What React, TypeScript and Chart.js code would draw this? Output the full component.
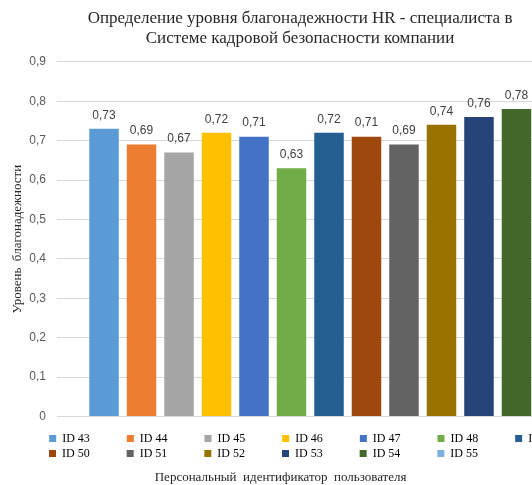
import React, { useEffect, useRef } from 'react';
import { Chart, registerables } from 'chart.js';

Chart.register(...registerables);

const titleLines = ['Определение уровня благонадежности HR - специалиста в', 'Системе кадровой безопасности компании'];
const yAxisTitle = 'Уровень  благонадежности';
const xAxisTitle = 'Персональный  идентификатор  пользователя';
const userIds = ['ID 43', 'ID 44', 'ID 45', 'ID 46', 'ID 47', 'ID 48', 'ID 49', 'ID 50', 'ID 51', 'ID 52', 'ID 53', 'ID 54', 'ID 55'];
const reliability = [0.73, 0.69, 0.67, 0.72, 0.71, 0.63, 0.72, 0.71, 0.69, 0.74, 0.76, 0.78, 0.8];
const seriesColors = ['#5B9BD5', '#ED7D31', '#A5A5A5', '#FFC000', '#4472C4', '#70AD47', '#255E91', '#9E480E', '#636363', '#997300', '#264478', '#43682B', '#7CAFDD'];
const yMin = 0;
const yMax = 0.9;
const yStep = 0.1;

const SERIF = '"Liberation Serif", "Times New Roman", serif';
const SANS = '"Liberation Sans", Arial, sans-serif';
const CANVAS_W = 610;
const CANVAS_H = 485;
const LEGEND_PER_ROW = 7;

function measurer(font: string) {
  const c = document.createElement('canvas').getContext('2d') as CanvasRenderingContext2D;
  c.font = font;
  return (s: string) => c.measureText(s).width;
}

function padText(text: string, target: number, font: string) {
  const m = measurer(font);
  let s = text;
  while (m(s + '\u00a0') <= target) s += '\u00a0';
  while (m(s + '\u200a') <= target) s += '\u200a';
  return s;
}

const fmt = (v: number) => String(Math.round(v * 100) / 100).replace('.', ',');

const dataLabels = {
  id: 'dataLabels',
  afterDatasetsDraw(chart: any) {
    const ctx = chart.ctx;
    ctx.save();
    ctx.font = `12px ${SANS}`;
    ctx.fillStyle = '#404040';
    ctx.textAlign = 'center';
    ctx.textBaseline = 'middle';
    chart.data.datasets.forEach((ds: any, i: number) => {
      const meta = chart.getDatasetMeta(i);
      meta.data.forEach((bar: any, j: number) => {
        ctx.fillText(fmt(ds.data[j]), bar.x, bar.y - 13.5);
      });
    });
    ctx.restore();
  },
};

export default function App() {
  const ref = useRef<HTMLCanvasElement>(null);
  useEffect(() => {
    if (!ref.current) return;
    const legendFont = `12px ${SERIF}`;
    const axisFont = `13px ${SERIF}`;
    const titleFont = `17px ${SERIF}`;
    const mX = measurer(axisFont);
    const mT = measurer(titleFont);
    const xTitleText = padText(xAxisTitle, mX(xAxisTitle) + 49, axisFont);
    const titleText = titleLines.map((l) => padText(l, mT(l) + 10, titleFont));
    const chart = new Chart(ref.current, {
      type: 'bar',
      data: {
        labels: [''],
        datasets: userIds.map((id, i) => ({
          label: id,
          data: [reliability[i]],
          backgroundColor: seriesColors[i],
          borderWidth: 0,
          categoryPercentage: 0.896,
          barPercentage: 0.787,
        })),
      },
      options: {
        responsive: false,
        animation: false,
        devicePixelRatio: 1,
        layout: { padding: { left: 9, right: 9, top: 0, bottom: 0 } },
        plugins: {
          tooltip: { enabled: false },
          title: {
            display: true,
            text: titleText,
            font: { family: SERIF, size: 17, weight: 'normal' },
            color: '#262626',
            padding: { top: 8, bottom: 13 },
          },
          subtitle: {
            display: true,
            text: xTitleText,
            position: 'bottom',
            font: { family: SERIF, size: 13, weight: 'normal' },
            color: '#262626',
            padding: 0,
          },
          legend: {
            position: 'bottom',
            align: 'center',
            labels: {
              boxWidth: 7,
              boxHeight: 7,
              padding: 3,
              color: '#404040',
              font: { family: SERIF, size: 12 },
              generateLabels: () => {
                const items: any[] = userIds.map((id, i) => ({
                  text: padText(id, (i + 1) % LEGEND_PER_ROW === 0 ? 33 : 62, legendFont),
                  fillStyle: seriesColors[i],
                  strokeStyle: seriesColors[i],
                  lineWidth: 0,
                  hidden: false,
                  datasetIndex: i,
                }));
                items.push({
                  text: padText('', 33, legendFont),
                  fillStyle: 'rgba(0,0,0,0)',
                  strokeStyle: 'rgba(0,0,0,0)',
                  lineWidth: 0,
                  hidden: false,
                  datasetIndex: userIds.length,
                });
                return items;
              },
            },
          },
        },
        scales: {
          x: {
            type: 'category',
            grid: { display: false },
            border: { display: false },
            ticks: { display: false },
            afterFit: (s: any) => { s.height = 13; },
          },
          y: {
            min: yMin,
            max: yMax,
            ticks: {
              stepSize: yStep,
              padding: 11,
              color: '#595959',
              font: { family: SANS, size: 12 },
              callback: (v: any) => fmt(Number(v)),
            },
            grid: { color: '#D9D9D9', drawTicks: false },
            border: { display: false },
            title: {
              display: true,
              text: yAxisTitle,
              color: '#262626',
              font: { family: SERIF, size: 13 },
              padding: { top: 1, bottom: 0 },
            },
            afterFit: (s: any) => { s.width = 48; },
          },
        },
      } as any,
      plugins: [dataLabels],
    });
    return () => chart.destroy();
  }, []);
  return (
    <div style={{ position: 'fixed', left: 0, top: 0, width: 532, height: CANVAS_H, overflow: 'hidden', background: '#fff' }}>
      <canvas ref={ref} width={CANVAS_W} height={CANVAS_H} style={{ display: 'block', width: CANVAS_W, height: CANVAS_H }} />
    </div>
  );
}
